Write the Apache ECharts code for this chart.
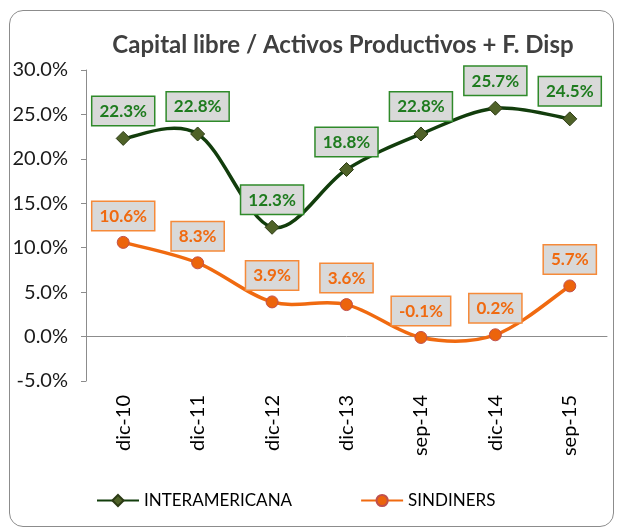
<!DOCTYPE html>
<html>
<head>
<meta charset="utf-8">
<script src="https://cdn.jsdelivr.net/npm/echarts@6/dist/echarts.min.js"></script>
<style>
    html, body { margin: 0; padding: 0; background: #fff; }
    #chart { width: 618px; height: 531px; position: absolute; left: 0; top: 0; }
    .frame {
        position: absolute; left: 9px; top: 10px; width: 603px; height: 515px;
        border: 1.5px solid #8c8c8c; border-radius: 14px; pointer-events: none;
    }
</style>
</head>
<body>
<div id="chart"></div>
<div class="frame"></div>
<script>
    // periods
    const categories = ['dic-10', 'dic-11', 'dic-12', 'dic-13', 'sep-14', 'dic-14', 'sep-15'];
    // values in %
    const interamericana = [22.3, 22.8, 12.3, 18.8, 22.8, 25.7, 24.5];
    const sindiners = [10.6, 8.3, 3.9, 3.6, -0.1, 0.2, 5.7];
    const seriesNames = ['INTERAMERICANA', 'SINDINERS'];

    const font = 'Lato, "Open Sans", sans-serif';
    const green = '#123d0c';
    const orange = '#f06a10';

    function boxLabel(textColor, borderColor) {
        return {
            show: true,
            position: 'top',
            distance: 6,
            formatter: p => p.value.toFixed(1) + '%',
            fontFamily: font,
            fontWeight: 'bold',
            fontSize: 17,
            color: textColor,
            backgroundColor: '#d9d9d9',
            borderColor: borderColor,
            borderWidth: 1.5,
            padding: [6, 7, 5, 7]
        };
    }

    // excel-like smoothed line: bezier segments through the points, mapped with api.coord
    function curve(values, color) {
        return {
            type: 'custom',
            silent: true,
            z: 1,
            data: values.map((v, i) => [i, v]),
            encode: { x: 0, y: 1 },
            renderItem: function (params, api) {
                const i = params.dataIndex;
                const n = values.length;
                if (i >= n - 1) return;
                const p = k => {
                    const j = Math.max(0, Math.min(n - 1, k));
                    return api.coord([j, values[j]]);
                };
                const p0 = p(i - 1), p1 = p(i), p2 = p(i + 1), p3 = p(i + 2);
                const t = 1 / 6;
                return {
                    type: 'bezierCurve',
                    shape: {
                        x1: p1[0], y1: p1[1], x2: p2[0], y2: p2[1],
                        cpx1: p1[0] + (p2[0] - p0[0]) * t, cpy1: p1[1] + (p2[1] - p0[1]) * t,
                        cpx2: p2[0] - (p3[0] - p1[0]) * t, cpy2: p2[1] - (p3[1] - p1[1]) * t
                    },
                    style: { stroke: color, lineWidth: 3.5, fill: null, lineCap: 'round' }
                };
            }
        };
    }

    const chart = echarts.init(document.getElementById('chart'));
    chart.setOption({
        animation: false,
        title: {
            text: 'Capital libre / Activos Productivos + F. Disp',
            left: 338,
            textAlign: 'center',
            top: 28,
            textStyle: { fontFamily: font, fontWeight: 'bold', fontSize: 24, color: '#404040' }
        },
        legend: {
            left: 91,
            top: 487,
            itemWidth: 42,
            itemHeight: 14,
            itemGap: 68,
            textStyle: { fontFamily: font, fontSize: 17, color: '#000' },
            data: [
                { name: seriesNames[0], lineStyle: { opacity: 1 } },
                { name: seriesNames[1], lineStyle: { opacity: 1 } }
            ]
        },
        grid: { left: 86, right: 11, top: 70, bottom: 150 },
        xAxis: {
            type: 'category',
            data: categories,
            axisLine: { onZero: true, lineStyle: { color: '#8c8c8c', width: 1 } },
            axisTick: { show: false },
            axisLabel: {
                interval: 0, rotate: 90, margin: 14,
                fontFamily: font, fontSize: 20, color: '#000'
            }
        },
        yAxis: {
            type: 'value',
            min: -5, max: 30, interval: 5,
            splitLine: { show: false },
            axisLine: { show: true, lineStyle: { color: '#8c8c8c', width: 1 } },
            axisTick: { show: true, inside: false, length: 5, lineStyle: { color: '#8c8c8c' } },
            axisLabel: {
                margin: 18,
                formatter: v => v.toFixed(1) + '%',
                fontFamily: font, fontSize: 20, color: '#1a1a1a'
            }
        },
        series: [
            curve(interamericana, green),
            curve(sindiners, orange),
            {
                name: seriesNames[0],
                type: 'line',
                z: 3,
                data: interamericana,
                symbol: 'diamond',
                symbolSize: 14,
                lineStyle: { color: green, width: 3.5, opacity: 0 },
                itemStyle: { color: '#4f6228', borderColor: '#2b3a14', borderWidth: 1 },
                label: boxLabel('#1e7b1e', '#2f8a2a')
            },
            {
                name: seriesNames[1],
                type: 'line',
                z: 3,
                data: sindiners,
                symbol: 'circle',
                symbolSize: 12,
                lineStyle: { color: orange, width: 3.5, opacity: 0 },
                itemStyle: { color: '#ec640c', borderColor: '#c0504d', borderWidth: 1 },
                label: boxLabel(orange, '#f58a3a')
            }
        ]
    });
</script>
</body>
</html>
